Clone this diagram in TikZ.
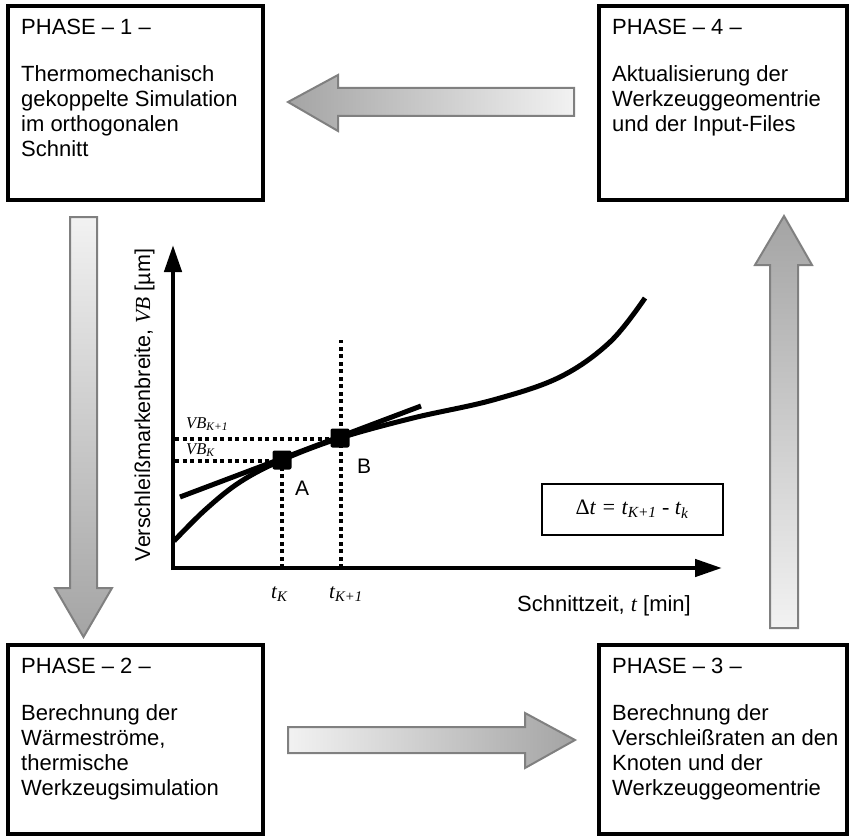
\documentclass[tikz,border=0pt]{standalone}
\usepackage{fontspec}
\setmainfont{Liberation Sans}
\newfontfamily\tnr{Liberation Serif}
\usetikzlibrary{arrows.meta}
\definecolor{arrowborder}{HTML}{808080}
\definecolor{arrowdark}{HTML}{A4A4A4}
\definecolor{arrowlight}{HTML}{F2F2F2}
\begin{document}
\begin{tikzpicture}[x=1pt,y=-1pt,
  phasebox/.style={draw, line width=4.5pt},
  boxtext/.style={anchor=base west, align=left, inner sep=0pt, font=\fontsize{22}{25}\selectfont},
  blockarrow/.style={draw=arrowborder, line width=2pt, line join=miter},
  axisline/.style={line width=4.5pt, -{Triangle[length=27pt,width=17pt]}},
  curveline/.style={line width=5pt},
  dotline/.style={line width=4.5pt, dash pattern=on 4pt off 3.5pt},
  marker/.style={fill=black, minimum size=19pt, inner sep=0pt, rounded corners=2pt},
  smalllabel/.style={anchor=base west, inner sep=0pt}
]
\useasboundingbox (0,0) rectangle (850,837);

% phase boxes
\draw[phasebox] (8,6) rectangle (263,200);
\draw[phasebox] (599,6) rectangle (847,200);
\draw[phasebox] (8,645) rectangle (263,834);
\draw[phasebox] (599,645) rectangle (847,834);

% (multi-line nodes: base anchor = baseline of last line)
\node[boxtext] (p1) at (21,35) {PHASE -- 1 --};
\node[boxtext] (t1) at (21,157) {Thermomechanisch\\gekoppelte Simulation\\im orthogonalen\\Schnitt};
\node[boxtext] (p4) at (612,35) {PHASE -- 4 --};
\node[boxtext] (t4) at (612,132) {Aktualisierung der\\Werkzeuggeomentrie\\und der Input-Files};
\node[boxtext] (p2) at (21,673) {PHASE -- 2 --};
\node[boxtext] (t2) at (21,795) {Berechnung der\\Wärmeströme,\\thermische\\Werkzeugsimulation};
\node[boxtext] (p3) at (612,673) {PHASE -- 3 --};
\node[boxtext] (t3) at (612,795) {Berechnung der\\Verschleißraten an den\\Knoten und der\\Werkzeuggeomentrie};

% block arrows
\path[blockarrow, left color=arrowdark, right color=arrowlight]
  (288,102) -- (338,75) -- (338,88) -- (574,88) -- (574,116) -- (338,116) -- (338,131) -- cycle;
\path[blockarrow, top color=arrowlight, bottom color=arrowdark]
  (70,217) -- (97,217) -- (97,588) -- (112,588) -- (83.5,637) -- (55,588) -- (70,588) -- cycle;
\path[blockarrow, left color=arrowlight, right color=arrowdark]
  (288,727) -- (525,727) -- (525,713) -- (575,740) -- (525,768) -- (525,753) -- (288,753) -- cycle;
\path[blockarrow, top color=arrowdark, bottom color=arrowlight]
  (770,628) -- (770,265) -- (755,265) -- (784,216) -- (812,265) -- (798,265) -- (798,628) -- cycle;

% axes
\coordinate (origin) at (173,568);
\coordinate (ytip) at (173,245);
\coordinate (xtip) at (722,568);
\draw[axisline] (173,570) -- (ytip);
\draw[axisline] (171,568) -- (xtip);

% dotted guides
\draw[dotline] (282,568) -- (282,462);
\draw[dotline] (341,568) -- (341,340);
\draw[dotline] (175,461) -- (282,461);
\draw[dotline] (175,439) -- (340,439);

% curves
\draw[curveline] (180,497) -- (421,406);
\draw[curveline] plot[smooth, tension=0.6] coordinates {(174,541) (205,510) (240,482) (282,460) (340,438) (413,418) (493,400) (560,377) (610,342) (645,298)};

% markers
\node[marker] (A) at (282,460) {};
\node[marker] (B) at (340,438) {};

% labels
\node[smalllabel, font=\fontsize{16.5}{16.5}\selectfont] (vbk1) at (186,428) {\tnr\itshape VB\textsubscript{K+1}};
\node[smalllabel, font=\fontsize{16.5}{16.5}\selectfont] (vbk) at (186,454) {\tnr\itshape VB\textsubscript{K}};
\node[smalllabel, font=\fontsize{21}{21}\selectfont] (la) at (295,495) {A};
\node[smalllabel, font=\fontsize{21}{21}\selectfont] (lb) at (357,473) {B};
\node[smalllabel, font=\fontsize{21}{21}\selectfont] (tk) at (271,598) {\tnr\itshape t\textsubscript{K}};
\node[smalllabel, font=\fontsize{21}{21}\selectfont] (tk1) at (329,598) {\tnr\itshape t\textsubscript{K+1}};
\node[draw, line width=2pt, minimum width=181pt, minimum height=51pt, inner sep=0pt, font=\fontsize{22}{22}\selectfont] (dt) at (632,509) {\tnr Δ\itshape t = t\textsubscript{K+1} - t\textsubscript{k}};
\node[smalllabel, font=\fontsize{22}{22}\selectfont] (xl) at (517,611) {Schnittzeit, {\tnr\itshape t} [min]};
\node[rotate=90, anchor=base, inner sep=0pt, font=\fontsize{21.5}{21.5}\selectfont] (yl) at (150,405) {Verschleißmarkenbreite, {\tnr\itshape VB} [µm]};
\end{tikzpicture}
\end{document}
